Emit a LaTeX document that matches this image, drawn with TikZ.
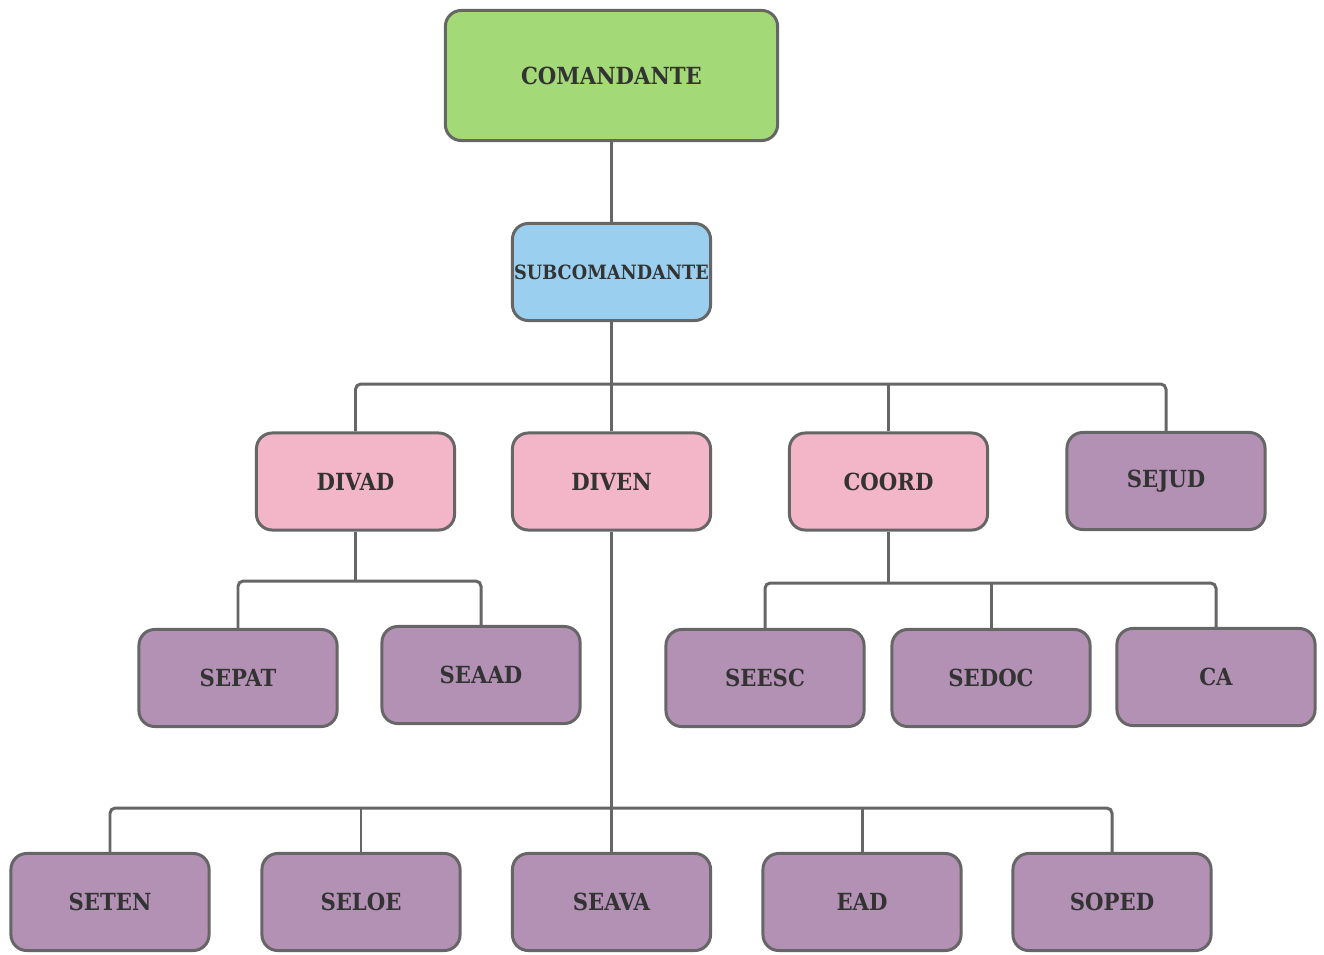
\documentclass[tikz,border=0pt]{standalone}
\usepackage{fontspec}
\setmainfont{DejaVu Serif Condensed}
\definecolor{linec}{HTML}{666666}
\definecolor{txtc}{HTML}{333333}
\definecolor{cgreen}{HTML}{A3D977}
\definecolor{cblue}{HTML}{9ACFEF}
\definecolor{cpink}{HTML}{F3B5C8}
\definecolor{cpurple}{HTML}{B391B5}
\begin{document}
\begin{tikzpicture}[x=0.01cm,y=-0.01cm,
  box/.style={draw=linec, line width=0.85pt, rounded corners=4.5pt,
    minimum width=1.98cm, minimum height=0.97cm, inner sep=0pt,
    text=txtc, font=\fontsize{6.7}{8}\selectfont\bfseries},
  conn/.style={draw=linec, line width=0.85pt, rounded corners=1.5pt},
  green/.style={box, fill=cgreen},
  blue/.style={box, fill=cblue},
  pink/.style={box, fill=cpink},
  purple/.style={box, fill=cpurple}]
\useasboundingbox (0,0) rectangle (1324,954);
% nodes
\node[green, minimum width=3.32cm, minimum height=1.30cm] (cmd) at (611.5,75.5) {COMANDANTE};
\node[blue, font=\fontsize{5.6}{7}\selectfont\bfseries] (sub) at (611.5,272) {SUBCOMANDANTE};
\node[pink] (divad) at (355.5,481.5) {DIVAD};
\node[pink] (diven) at (611.5,481.5) {DIVEN};
\node[pink] (coord) at (888.5,481.5) {COORD};
\node[purple] (sejud) at (1166,481) {SEJUD};
\node[purple] (sepat) at (238,678) {SEPAT};
\node[purple] (seaad) at (481,675) {SEAAD};
\node[purple] (seesc) at (765,678) {SEESC};
\node[purple] (sedoc) at (991,678) {SEDOC};
\node[purple] (ca) at (1216,677) {CA};
\node[purple] (seten) at (110,902) {SETEN};
\node[purple] (seloe) at (361,902) {SELOE};
\node[purple] (seava) at (611.5,902) {SEAVA};
\node[purple] (ead) at (862,902) {EAD};
\node[purple] (soped) at (1112,902) {SOPED};
% bus levels
\coordinate (b1) at (0,384);
\coordinate (b2) at (0,581);
\coordinate (b3) at (0,583);
\coordinate (b4) at (0,808);
% connectors
\draw[conn] (cmd.south) -- (sub.north);
\draw[conn] (sub.south) -- (diven.north);
\draw[conn] (divad.north) |- (sejud.north |- b1) -- (sejud.north);
\draw[conn] (coord.north |- b1) -- (coord.north);
\draw[conn] (divad.south) -- (divad.south |- b2);
\draw[conn] (sepat.north) |- (seaad.north |- b2) -- (seaad.north);
\draw[conn] (coord.south) -- (coord.south |- b3);
\draw[conn] (seesc.north) |- (ca.north |- b3) -- (ca.north);
\draw[conn] (sedoc.north |- b3) -- (sedoc.north);
\draw[conn] (diven.south) -- (seava.north);
\draw[conn] (seten.north) |- (soped.north |- b4) -- (soped.north);
\draw[conn] (seloe.north |- b4) -- (seloe.north);
\draw[conn] (ead.north |- b4) -- (ead.north);
\end{tikzpicture}
\end{document}
